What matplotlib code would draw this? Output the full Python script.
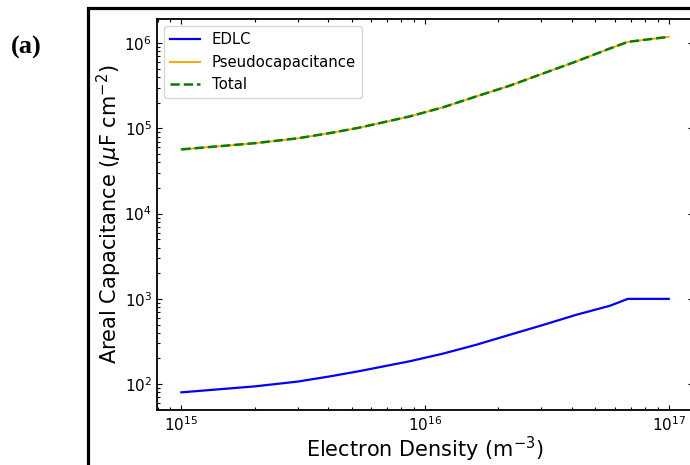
import matplotlib
matplotlib.use("Agg")
import matplotlib.pyplot as plt
from matplotlib.patches import Rectangle
from matplotlib.ticker import LogLocator, FixedLocator, NullFormatter

# electron density (m^-3)
densidad = [1e15, 2e15, 3e15, 4.06e15, 5.38e15, 8.63e15, 1.18e16, 1.62e16,
            2.22e16, 3.05e16, 4.18e16, 5.73e16, 6.8e16, 1e17]

# areal capacitance (uF cm^-2)
edlc = [80, 94, 107, 123, 142, 185, 227, 289,
        378, 494, 651, 829, 1000, 1000]
pseudo = [56.6e3, 66.9e3, 76.4e3, 87.9e3, 101.9e3, 137.8e3, 175.8e3, 236.7e3,
          315.6e3, 440.5e3, 610.3e3, 864.2e3, 1034e3, 1185e3]
total = [56.7e3, 67e3, 76.5e3, 88e3, 102e3, 138e3, 176e3, 237e3,
         316e3, 441e3, 611e3, 865e3, 1035e3, 1186e3]

fig = plt.figure(figsize=(6.9, 4.65), dpi=100)
ax = fig.add_axes([0.2275, 0.118, 0.777, 0.841])

ax.loglog(densidad, edlc, color='blue', lw=1.6, label='EDLC')
ax.loglog(densidad, pseudo, color='orange', lw=1.4, label='Pseudocapacitance')
ax.loglog(densidad, total, color='green', lw=1.8, ls='--', label='Total')

ax.set_xlabel('Electron Density (m$^{-3}$)', fontsize=15, labelpad=1)
ax.set_ylabel('Areal Capacitance ($\\mu$F cm$^{-2}$)', fontsize=15, labelpad=0)

# ticks menores de 2 a 9 en cada decada
ax.xaxis.set_major_locator(LogLocator(base=10, numticks=20))
ax.yaxis.set_major_locator(LogLocator(base=10, numticks=20))
ax.xaxis.set_minor_locator(FixedLocator([m * 10.0**e for e in range(14, 18) for m in range(2, 10)]))
ax.yaxis.set_minor_locator(FixedLocator([m * 10.0**e for e in range(1, 7) for m in range(2, 10)]))
ax.xaxis.set_minor_formatter(NullFormatter())
ax.yaxis.set_minor_formatter(NullFormatter())
ax.tick_params(which='both', direction='in', top=True, right=True, labelsize=11)
ax.tick_params(which='minor', length=2.5, width=0.8)
for s in ax.spines.values():
    s.set_linewidth(1.3)
ax.legend(loc='upper left', fontsize=10.7)

# marco exterior grueso y etiqueta del panel
fig.patches.append(Rectangle((0.1275, -0.2), 1.0, 1.183, transform=fig.transFigure,
                             fill=False, lw=2.3, edgecolor='black'))
fig.text(0.038, 0.899, '(a)', fontsize=19, fontweight='bold',
         family='Liberation Serif', ha='center', va='center')

fig.savefig('out.png', dpi=100)
